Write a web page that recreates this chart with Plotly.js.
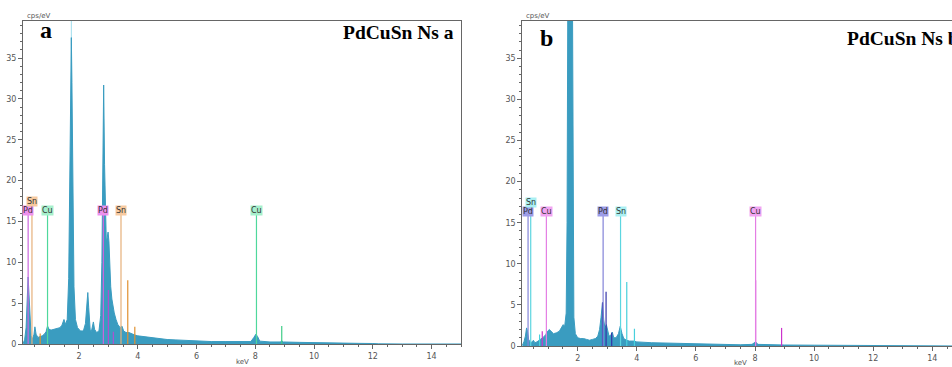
<!DOCTYPE html>
<html><head><meta charset="utf-8">
<script src="https://cdn.plot.ly/plotly-3.0.1.min.js"></script>
<style>html,body{margin:0;padding:0;background:#fff}#chart{width:952px;height:367px}</style>
</head><body><div id="chart"></div>
<script>
// ---------- DATA ----------
// Panel a spectrum (keV, cps/eV)
const energyA = [0.10,0.15,0.20,0.24,0.27,0.30,0.33,0.37,0.42,0.47,0.50,0.54,0.60,0.68,0.75,0.82,0.88,0.93,0.98,1.05,1.15,1.25,1.35,1.42,1.49,1.54,1.60,1.65,1.69,1.72,1.74,1.76,1.79,1.83,1.88,1.95,2.05,2.15,2.22,2.27,2.30,2.33,2.38,2.42,2.46,2.49,2.53,2.60,2.68,2.74,2.78,2.81,2.84,2.87,2.90,2.93,2.96,2.99,3.02,3.05,3.08,3.12,3.16,3.20,3.26,3.32,3.40,3.46,3.52,3.60,3.70,3.80,3.90,4.00,4.20,4.40,4.60,4.80,5.00,5.30,5.60,6.00,6.50,7.00,7.50,7.85,7.95,8.02,8.08,8.15,8.50,8.85,8.90,8.95,9.50,10.0,10.5,11.0,11.5,12.0,12.2,13.0,15.0];
const countsA = [0.1,0.5,2.0,5.5,8.2,6.0,3.0,1.0,0.6,1.2,2.1,1.2,0.8,0.9,1.0,1.2,1.5,2.2,1.8,1.7,1.8,1.9,2.0,2.3,3.0,2.4,3.0,8.0,22,33,37.5,32,20,7,3.0,2.0,1.6,1.6,2.5,5.0,6.3,4.5,1.8,1.5,2.4,2.7,1.8,1.4,1.6,3.5,10,22,31.7,22,15,12.5,13,13.7,12.5,9.5,7,5.5,4.5,3.8,3.0,2.4,2.0,2.2,1.6,1.4,1.4,1.2,1.1,1.0,0.9,0.8,0.7,0.6,0.55,0.5,0.45,0.35,0.3,0.3,0.25,0.3,0.8,1.2,0.9,0.35,0.25,0.25,0.4,0.25,0.2,0.15,0.12,0.1,0.08,0.06,0.02,0,0];
// thin light overlay spike at the Si peak of panel a
const overlayKeVA = [1.74];
const overlayTopA = [39.6];

// Panel b spectrum (keV, cps/eV)
const energyB = [0.12,0.18,0.23,0.27,0.30,0.34,0.40,0.46,0.50,0.55,0.62,0.70,0.78,0.85,0.92,0.98,1.04,1.10,1.18,1.28,1.38,1.46,1.51,1.56,1.61,1.64,1.66,1.70,1.74,1.78,1.82,1.84,1.87,1.92,2.00,2.10,2.20,2.30,2.40,2.50,2.60,2.68,2.74,2.79,2.84,2.88,2.92,2.97,3.01,3.06,3.12,3.17,3.22,3.30,3.38,3.44,3.50,3.56,3.65,3.75,3.90,4.00,4.50,5.00,5.50,6.00,6.50,7.00,7.50,7.90,8.02,8.10,8.50,9.00,10.0,11.0,11.6,12.0,15.0];
const countsB = [0.1,0.5,1.2,2.2,1.8,0.8,0.4,0.5,0.7,0.4,0.5,0.7,0.9,1.1,1.4,1.8,2.0,1.8,1.5,1.6,1.8,2.3,2.6,2.4,4,15,45,80,90,80,45,15,3.5,1.5,1.0,0.9,0.9,0.8,0.7,0.8,0.9,1.2,2.0,3.5,5.3,3.2,2.2,2.6,2.0,1.2,1.3,1.7,1.0,1.0,1.5,2.4,1.5,0.9,0.7,0.6,0.6,0.5,0.4,0.35,0.3,0.25,0.2,0.2,0.15,0.2,0.5,0.2,0.15,0.12,0.1,0.08,0.05,0,0];

// Labelled element markers
const markElemA = ['Pd','Sn','Cu','Pd','Sn','Cu'];
const markKeVA  = [0.27,0.40,0.93,2.83,3.43,8.04];
const markRowA  = [0,1,0,0,0,0];
const markElemB = ['Pd','Sn','Cu','Pd','Sn','Cu'];
const markKeVB  = [0.32,0.41,0.94,2.86,3.45,8.02];
const markRowB  = [0,1,0,0,0,0];

// Unlabelled secondary lines
const minorKeVA = [0.68,3.00,3.17,3.66,3.90,8.90];
const minorHA   = [1.3,6.6,1.5,7.8,2.1,2.2];
const minorElA  = ['Sn','Pd','Pd','Sn','Sn','Cu'];
const minorKeVB = [0.71,0.80,2.84,2.96,3.15,3.66,3.92,8.02,8.90];
const minorHB   = [1.4,1.8,5.3,6.6,1.6,7.8,2.1,8.0,2.2];
const minorElB  = ['Sn','Cu','Pd','Pd','Pd','Sn','Sn','Cu','Cu'];

// ---------- STYLE ----------
const W = 952, H = 367;
const px = x => x / W;
const py = y => 1 - y / H;
const specColor = '#3a9cc0';
const colA = {Pd:{line:'#cc66dd',bg:'#ee90ee',minor:'#b050d0'}, Sn:{line:'#e6b07a',bg:'#f7caa0',minor:'#e09030'}, Cu:{line:'#4fd89c',bg:'#a6f0cc',minor:'#40cc88'}};
const colB = {Pd:{line:'#8484d8',bg:'#9c9ce8',minor:'#3333a8'}, Sn:{line:'#5cd6e0',bg:'#aaf0f2',minor:'#48d0dc'}, Cu:{line:'#e47ee4',bg:'#f2a4f2',minor:'#cc33cc'}};
const lineTop = 15.8, rowY = [16.4, 17.45];

const traces = [];
function spectrum(x, y, xa, ya) {
  traces.push({type:'scatter', mode:'lines', x:x, y:y, xaxis:xa, yaxis:ya, fill:'tozeroy',
    line:{color:specColor, width:1}, fillcolor:specColor, hoverinfo:'skip', showlegend:false});
}
function vline(e, h, color, xa, ya, w) {
  traces.push({type:'scatter', mode:'lines', x:[e,e], y:[0,h], xaxis:xa, yaxis:ya,
    line:{color:color, width:w||1.2}, hoverinfo:'skip', showlegend:false});
}
overlayKeVA.forEach((e,i)=>vline(e, overlayTopA[i], '#9fdcec', 'x','y', 1));
spectrum(energyA, countsA, 'x', 'y');
spectrum(energyB, countsB, 'x2', 'y2');
minorKeVA.forEach((e,i)=>vline(e, minorHA[i], colA[minorElA[i]].minor, 'x','y'));
minorKeVB.forEach((e,i)=>vline(e, minorHB[i], colB[minorElB[i]].minor, 'x2','y2'));
markKeVA.forEach((e,i)=>vline(e, lineTop, colA[markElemA[i]].line, 'x','y'));
markKeVB.forEach((e,i)=>vline(e, lineTop, colB[markElemB[i]].line, 'x2','y2'));

const annotations = [];
function label(e, row, el, cols, xr, yr) {
  annotations.push({x:e, y:rowY[row], xref:xr, yref:yr, text:el, showarrow:false,
    xanchor:'center', yanchor:'middle', bgcolor:cols[el].bg, borderpad:0,
    font:{family:'DejaVu Sans', size:8, color:'#333'}});
}
markKeVA.forEach((e,i)=>label(e, markRowA[i], markElemA[i], colA, 'x','y'));
markKeVB.forEach((e,i)=>label(e, markRowB[i], markElemB[i], colB, 'x2','y2'));

function ptext(x, y, t, size, fam, xanchor, color) {
  annotations.push({x:px(x), y:py(y), xref:'paper', yref:'paper', text:t, showarrow:false,
    xanchor:xanchor, yanchor:'middle', font:{family:fam, size:size, color:color||'#000'}});
}
ptext(25, 16, 'cps/eV', 7, 'DejaVu Sans', 'left', '#555');
ptext(524, 16, 'cps/eV', 7, 'DejaVu Sans', 'left', '#555');
ptext(242, 362, 'keV', 7, 'DejaVu Sans', 'center', '#555');
ptext(740, 363, 'keV', 7, 'DejaVu Sans', 'center', '#555');
ptext(38, 30.5, '<b>a</b>', 24, 'Liberation Serif', 'left');
ptext(538, 37.6, '<b>b</b>', 24, 'Liberation Serif', 'left');
ptext(456, 32.7, '<b>PdCuSn Ns a</b>', 19.5, 'Liberation Serif', 'right');
ptext(845, 38.4, '<b>PdCuSn Ns b</b>', 19.5, 'Liberation Serif', 'left');

function xax(dom, range, mirror) {
  return {domain:dom, range:range, tick0:0, dtick:2, ticks:'outside', ticklen:4, tickwidth:1, tickcolor:'#666',
    showline:true, linecolor:'#666', linewidth:1, mirror:mirror, showgrid:false, zeroline:false,
    tickfont:{family:'DejaVu Sans', size:8, color:'#555'}, automargin:false, fixedrange:true,
    minor:{tick0:0, dtick:0.5, ticks:'outside', ticklen:2, tickcolor:'#666', showgrid:false}};
}
function yax(dom, range, mirror, anchor) {
  return {domain:dom, range:range, anchor:anchor, tick0:0, dtick:5, ticks:'outside', ticklen:4, tickwidth:1, tickcolor:'#666',
    showline:true, linecolor:'#666', linewidth:1, mirror:mirror, showgrid:false, zeroline:false,
    tickfont:{family:'DejaVu Sans', size:8, color:'#555'}, automargin:false, fixedrange:true,
    minor:{tick0:0, dtick:1, ticks:'outside', ticklen:2, tickcolor:'#666', showgrid:false}};
}
const layout = {
  width:W, height:H, margin:{l:0,r:0,t:0,b:0}, paper_bgcolor:'#fff', plot_bgcolor:'#fff', showlegend:false,
  xaxis: Object.assign(xax([px(23), px(461)], [0.095, 15.0], true), {anchor:'y'}),
  yaxis: yax([1-344/H, 1-20.7/H], [0, 39.57], true, 'x'),
  xaxis2: Object.assign(xax([px(522.3), 1], [0.125, 14.667], true), {anchor:'y2'}),
  yaxis2: yax([1-346/H, 1-20.7/H], [0, 39.57], false, 'x2'),
  annotations: annotations
};
Plotly.newPlot('chart', traces, layout, {displayModeBar:false, staticPlot:true});
</script></body></html>
